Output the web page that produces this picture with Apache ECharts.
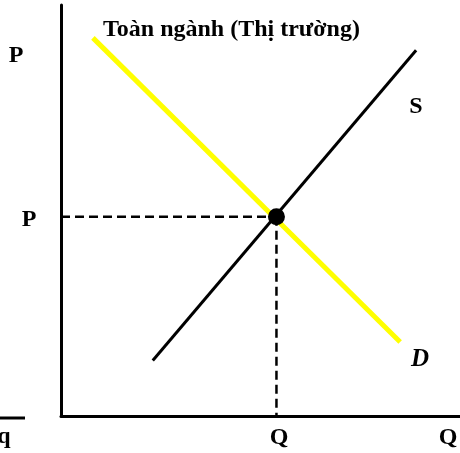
<!DOCTYPE html>
<html>
<head>
<meta charset="utf-8">
<script src="https://cdn.jsdelivr.net/npm/echarts@6/dist/echarts.min.js"></script>
<style>
  html, body { margin: 0; padding: 0; background: #fff; }
  #main { width: 460px; height: 453px; }
</style>
</head>
<body>
<div id="main"></div>
<script>
// đường cầu D và cung S (đơn vị 0..100)
const demandPts = [[8, 92], [85, 18]]
const supplyPts = [[23, 13.5], [89, 89]]
const eqPoint = [54, 48.5]
const titleText = 'Toàn ngành (Thị trường)'

const chart = echarts.init(document.getElementById('main'))
const font = '"Liberation Serif", "Times New Roman", serif'

function label(text, x, y, size, italic, align) {
  return {
    type: 'text', x: x, y: y,
    style: {
      text: text,
      font: (italic ? 'italic ' : '') + 'bold ' + size + 'px ' + font,
      fill: '#000',
      align: align || 'center',
      verticalAlign: 'middle'
    }
  }
}

const option = {
  animation: false,
  grid: { left: 61, top: 5, right: 0, bottom: 37 },
  xAxis: {
    type: 'value', min: 0, max: 100,
    axisLine: { lineStyle: { color: '#000', width: 3 } },
    axisTick: { show: false }, axisLabel: { show: false }, splitLine: { show: false }
  },
  yAxis: {
    type: 'value', min: 0, max: 100,
    axisLine: { lineStyle: { color: '#000', width: 3 } },
    axisTick: { show: false }, axisLabel: { show: false }, splitLine: { show: false }
  },
  series: [
    {
      type: 'line', data: [[0, eqPoint[1]], eqPoint], symbol: 'none',
      lineStyle: { color: '#000', width: 2.5, type: [9, 5] }
    },
    {
      type: 'line', data: [eqPoint, [eqPoint[0], 0]], symbol: 'none',
      lineStyle: { color: '#000', width: 2.5, type: [9, 5] }
    },
    {
      type: 'line', data: demandPts, symbol: 'none',
      lineStyle: { color: '#ffff00', width: 5 }
    },
    {
      type: 'line', data: supplyPts, symbol: 'none',
      lineStyle: { color: '#000', width: 3 }
    },
    {
      type: 'scatter', data: [eqPoint], symbolSize: 17,
      itemStyle: { color: '#000', opacity: 1 }, z: 5
    }
  ],
  graphic: [
    { type: 'line', shape: { x1: 0, y1: 418, x2: 25, y2: 418 }, style: { stroke: '#000', lineWidth: 3 } },
    label(titleText, 103, 30, 24, false, 'left'),
    label('P', 16, 56, 24),
    label('P', 29, 220, 24),
    label('S', 416, 107, 24),
    label('D', 420, 360, 25, true),
    label('Q', 279, 438, 24),
    label('Q', 448, 438, 24),
    label('q', 4, 437, 24)
  ]
}
chart.setOption(option)
</script>
</body>
</html>
